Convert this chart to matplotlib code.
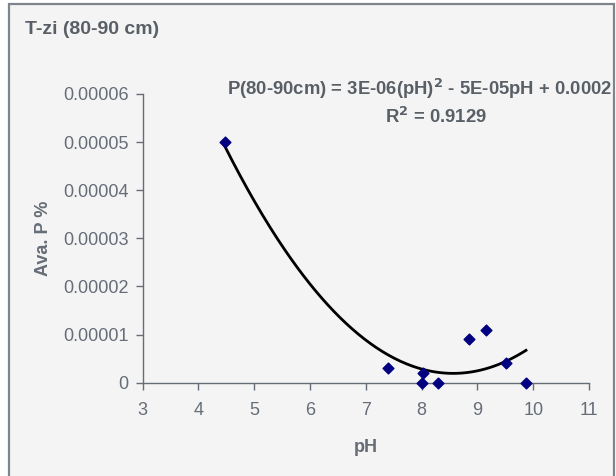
import numpy as np
import matplotlib.pyplot as plt
from matplotlib.patches import Rectangle

plt.rcParams['font.family'] = ['Liberation Sans', 'DejaVu Sans']

# data
ph = [4.47, 7.40, 8.00, 8.03, 8.30, 8.85, 9.16, 9.52, 9.87]
ava_p = [5.0e-5, 3.0e-6, 0.0, 2.0e-6, 0.0, 9.0e-6, 1.1e-5, 4.0e-6, 0.0]

title = 'T-zi (80-90 cm)'
eq_text = 'P(80-90cm) = 3E-06(pH)$^\\mathbf{2}$ - 5E-05pH + 0.0002'
r2_text = 'R$^\\mathbf{2}$ = 0.9129'

grey = '#666d77'
bg = '#f4f4f4'

fig = plt.figure(figsize=(6.16, 4.76), dpi=100)
fig.patch.set_facecolor('white')
frame = Rectangle((8.5 / 616, -10 / 476), 605 / 616, 482 / 476, transform=fig.transFigure,
                  facecolor=bg, edgecolor='#7f858c', linewidth=1.6, zorder=-5)
fig.patches.append(frame)

ax = fig.add_axes([142.7 / 616, 1 - 382.7 / 476, (589 - 142.7) / 616, (382.7 - 94) / 476])
ax.patch.set_visible(False)

# quadratic trendline
coef = np.polyfit(ph, ava_p, 2)
xs = np.linspace(min(ph), max(ph), 200)
ax.plot(xs, np.polyval(coef, xs), color='black', linewidth=2, zorder=2, clip_on=False)
ax.scatter(ph, ava_p, marker='D', s=30, color='#000080', zorder=3, clip_on=False)

ax.set_xlim(3, 11)
ax.set_ylim(0, 0.00006)
ax.set_xticks(range(3, 12))
ax.set_yticks([0, 0.00001, 0.00002, 0.00003, 0.00004, 0.00005, 0.00006])
ax.set_yticklabels(['0', '0.00001', '0.00002', '0.00003', '0.00004', '0.00005', '0.00006'])

for s in ['top', 'right']:
    ax.spines[s].set_visible(False)
for s in ['left', 'bottom']:
    ax.spines[s].set_color(grey)
    ax.spines[s].set_linewidth(1)
ax.tick_params(colors=grey, labelsize=13, length=5, width=1, pad=5)
ax.tick_params(axis='x', pad=9)

ax.set_xlabel('pH', fontsize=13, fontweight='bold', color=grey, labelpad=14)
ax.set_ylabel('Ava. P %', fontsize=13, fontweight='bold', color=grey, labelpad=8)

fig.text(25 / 616, 1 - 29 / 476, title, fontsize=14, fontweight='bold', color='#595f66', va='center')
fig.text(612 / 616, 1 - 89 / 476, eq_text, fontsize=13.3, fontweight='bold', color='#595f66',
         ha='right', va='center')
fig.text(436 / 616, 1 - 117 / 476, r2_text, fontsize=13.3, fontweight='bold', color='#595f66',
         ha='center', va='center')

fig.savefig('out.png', dpi=100)
